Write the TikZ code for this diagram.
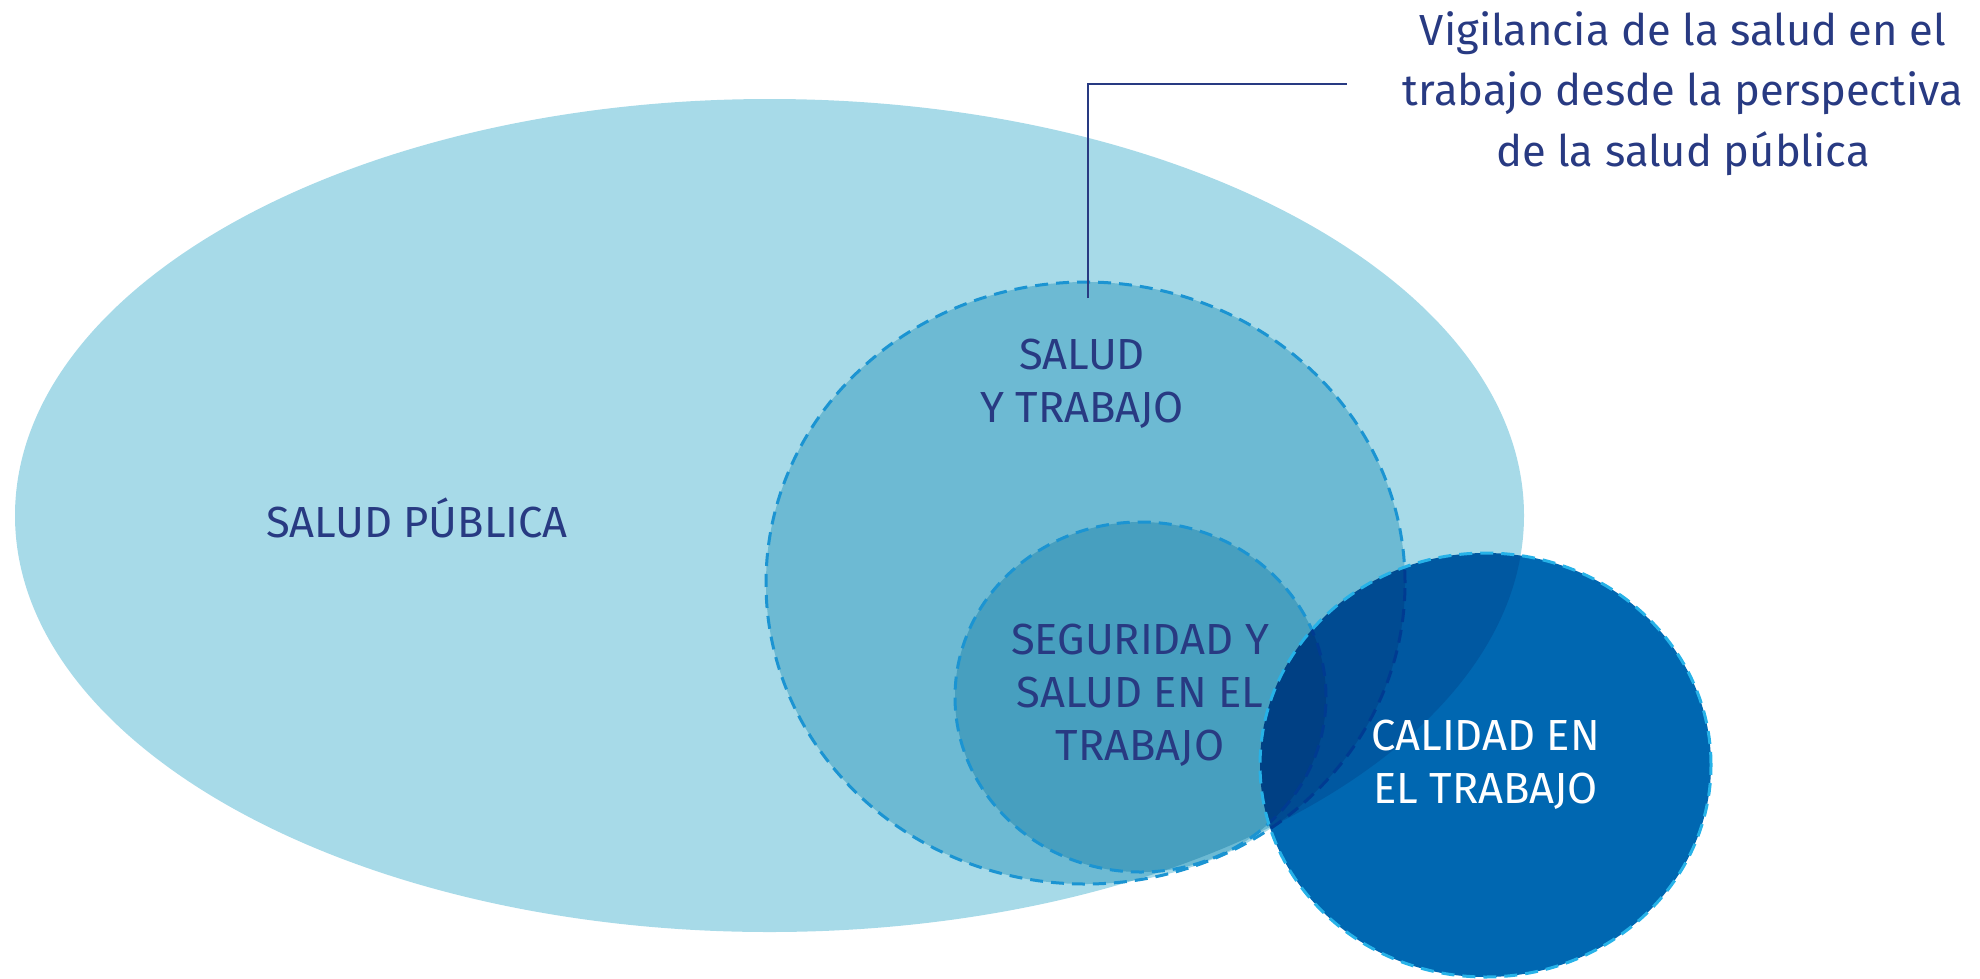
\documentclass[tikz,border=0pt]{standalone}
\usepackage{fontspec}
\setmainfont{Fira Sans}
\usetikzlibrary{shapes.geometric}
\definecolor{lightblue}{HTML}{A7DAE8}
\definecolor{calblue}{HTML}{0067B1}
\definecolor{dashblue}{HTML}{1B94D2}
\definecolor{dashcyan}{HTML}{26B2E8}
\definecolor{navy}{RGB}{40,58,130}
\tikzset{
  region/.style={shape=ellipse, inner sep=0pt, outer sep=0pt},
  dashring/.style={draw=#1, line width=3pt, dash pattern=on 13pt off 8pt},
  label/.style={text=navy, align=center, anchor=base, inner sep=0pt,
    font=\fontsize{43.5}{53}\selectfont},
  leader/.style={draw=navy, line width=2.5pt}
}
\begin{document}
\begin{tikzpicture}[x=1pt, y=-1pt]
\useasboundingbox (0,0) rectangle (1980,978);
% Salud publica
\node[region, fill=lightblue, minimum width=1509pt, minimum height=833pt] (sp) at (769.5,515.5) {};
% Salud y trabajo
\node[region, fill=lightblue, blend mode=multiply, minimum width=639pt, minimum height=602pt] (syt) at (1085.5,583) {};
\node[region, dashring=dashblue, minimum width=639pt, minimum height=602pt] (sytb) at (1085.5,583) {};
% Seguridad y salud
\node[region, fill=lightblue, blend mode=multiply, minimum width=371pt, minimum height=350pt] (sst) at (1140.5,697) {};
\node[region, dashring=dashblue, minimum width=371pt, minimum height=350pt] (sstb) at (1140.5,697) {};
% Calidad
\node[region, fill=calblue, blend mode=multiply, minimum width=451pt, minimum height=424pt] (cal) at (1485.5,765) {};
\node[region, dashring=dashcyan, minimum width=451pt, minimum height=424pt] (calb) at (1485.5,765) {};
% labels (anchor=base is the baseline of the last line)
\node[label] (tsp) at (417,537) {SALUD PÚBLICA};
\node[label] (tsyt) at (1082,422) {SALUD\\Y TRABAJO};
\node[label] (tsst) at (1140,760) {SEGURIDAD Y\\SALUD EN EL\\TRABAJO};
\node[label, text=white] (tcal) at (1485.5,803) {CALIDAD EN\\EL TRABAJO};
\node[label, font=\fontsize{43.5}{60.5}\selectfont] (vig) at (1683,166) {Vigilancia de la salud en el\\trabajo desde la perspectiva\\de la salud pública};
% leader
\coordinate (leadStart) at (1088,298);
\coordinate (leadEnd) at (1346.5,84);
\draw[leader] (leadStart) |- (leadEnd);
\end{tikzpicture}
\end{document}
